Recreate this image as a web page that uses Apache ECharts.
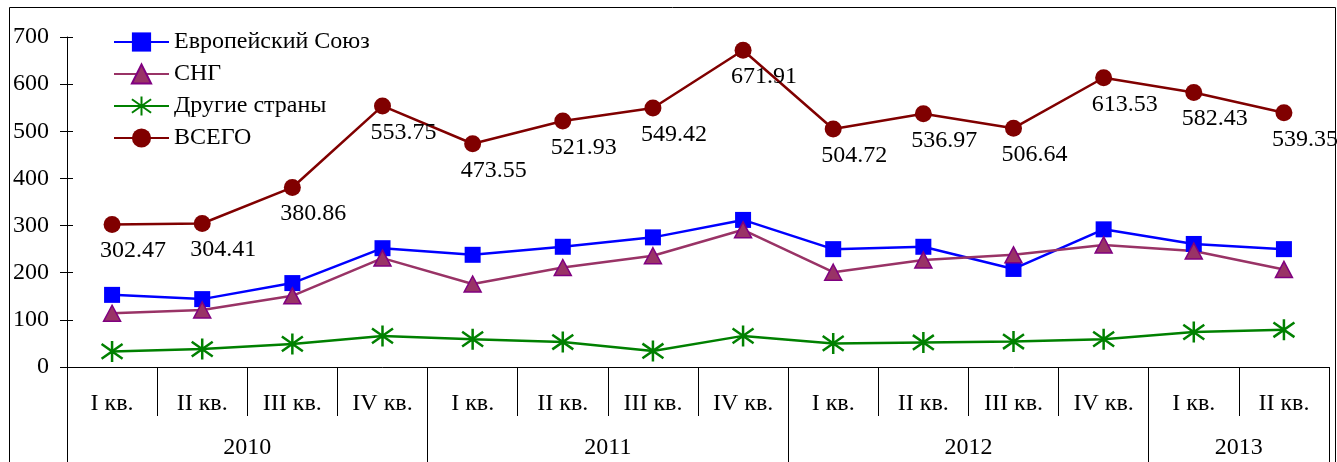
<!DOCTYPE html>
<html>
<head>
<meta charset="utf-8">
<script src="https://cdn.jsdelivr.net/npm/echarts@6/dist/echarts.min.js"></script>
<style>
html,body{margin:0;padding:0;background:#fff;}
#chart{width:1337px;height:462px;}
</style>
</head>
<body>
<div id="chart"></div>
<script>
const quarters = ['I кв.','II кв.','III кв.','IV кв.','I кв.','II кв.','III кв.','IV кв.','I кв.','II кв.','III кв.','IV кв.','I кв.','II кв.'];
const years = ['2010','2011','2012','2013'];
const quartersPerYear = [4,4,4,2];
const seriesNames = ['Европейский Союз','СНГ','Другие страны','ВСЕГО'];
const eu = [153,144,178,252,238,255,275,312,250,255,208,292,261,250];
const cis = [114,121,151,231,176,211,236,291,201,227,238,259,246,207];
const other = [33,38,49,66,59,53,34,66,50,52,54,59,74,79];
const total = [302.47,304.41,380.86,553.75,473.55,521.93,549.42,671.91,504.72,536.97,506.64,613.53,582.43,539.35];
const yMin = 0, yMax = 700, yStep = 100;

const boundaries = [0];
quartersPerYear.forEach(n => boundaries.push(boundaries[boundaries.length-1] + n));
const mids = quartersPerYear.map((n,i) => boundaries[i] + n/2);

const FONT = "'Liberation Serif','Times New Roman',serif";
const starPath = 'path://M10,0L10,20M1,3L19,17M1,17L19,3';

const chart = echarts.init(document.getElementById('chart'), null, {renderer:'canvas'});
chart.setOption({
  animation:false,
  backgroundColor:'#fff',
  textStyle:{fontFamily:FONT,color:'#000'},
  grid:{left:67,right:8,top:37,bottom:95,containLabel:false},
  legend:{
    orient:'vertical', left:108, top:25, padding:5, itemWidth:55, itemHeight:24, itemGap:8, itemTextGap:6,
    textStyle:{fontFamily:FONT,fontSize:24,color:'#000'},
    data:seriesNames
  },
  xAxis:[
    {type:'category', data:quarters, boundaryGap:true, position:'bottom',
     axisLine:{show:true,lineStyle:{color:'#000',width:1}},
     axisTick:{show:true,interval:0,length:49,lineStyle:{color:'#000',width:1}},
     axisLabel:{interval:0,margin:25,fontFamily:FONT,fontSize:24,color:'#000'},
     splitLine:{show:false}},
    {type:'value', min:0, max:quarters.length, position:'bottom', offset:0,
     axisLine:{show:false},
     axisTick:{show:true,customValues:boundaries,length:95,lineStyle:{color:'#000',width:1}},
     axisLabel:{show:true,customValues:mids,margin:69,fontFamily:FONT,fontSize:24,color:'#000',
       formatter:function(v){const i=mids.findIndex(m=>Math.abs(m-v)<1e-6);return i>=0?years[i]:'';}},
     splitLine:{show:false}}
  ],
  yAxis:[
    {type:'value', min:yMin, max:yMax, interval:yStep, position:'left',
     axisLine:{show:true,lineStyle:{color:'#000',width:1}},
     axisTick:{show:true,inside:false,length:7,lineStyle:{color:'#000',width:1}},
     axisLabel:{margin:18,fontFamily:FONT,fontSize:24,color:'#000'},
     splitLine:{show:false}},
    {type:'value', min:yMin, max:yMax, interval:yStep, position:'left', offset:0,
     axisLine:{show:false},
     axisTick:{show:true,inside:true,length:6,lineStyle:{color:'#000',width:1}},
     axisLabel:{show:false},
     splitLine:{show:false}}
  ],
  series:[
    {name:seriesNames[0], type:'line', data:eu, symbol:'rect', symbolSize:16,
     lineStyle:{color:'#0000FF',width:2.5}, itemStyle:{color:'#0000FF'}},
    {name:seriesNames[1], type:'line', data:cis, symbol:'triangle', symbolSize:[17,16],
     lineStyle:{color:'#993366',width:2.5}, itemStyle:{color:'#993366',borderColor:'#800080',borderWidth:1.5}},
    {name:seriesNames[2], type:'line', data:other, symbol:starPath, symbolSize:21,
     lineStyle:{color:'#008000',width:2.5}, itemStyle:{color:'#008000',borderColor:'#008000',borderWidth:2.5}},
    {name:seriesNames[3], type:'line', data:total, symbol:'circle', symbolSize:17,
     lineStyle:{color:'#800000',width:2.5}, itemStyle:{color:'#800000'},
     label:{show:true,position:'bottom',distance:6,offset:[21,0],fontFamily:FONT,fontSize:24,color:'#000',
       formatter:function(p){return p.value.toFixed(2);}}}
  ],
  graphic:[
    {type:'rect', shape:{x:9.5,y:7.5,width:1326,height:470}, style:{fill:'none',stroke:'#000',lineWidth:1}, silent:true, z:-1}
  ]
});
</script>
</body>
</html>
